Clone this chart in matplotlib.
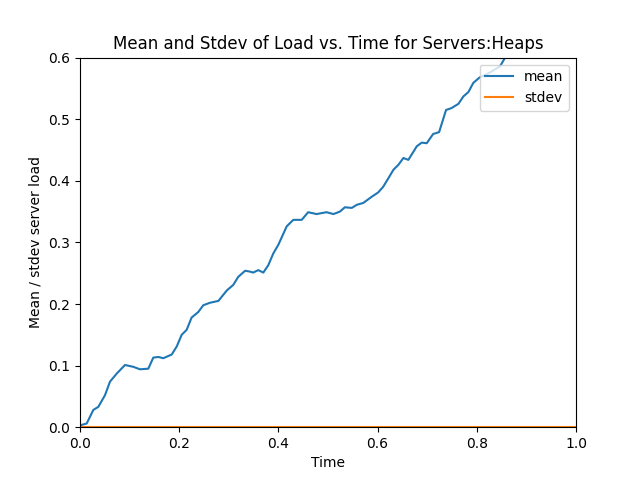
import matplotlib
matplotlib.use('Agg')
import matplotlib.pyplot as plt

# values
time = [0.0, 0.0135, 0.0268, 0.0369, 0.0504, 0.0605, 0.074, 0.0907, 0.1075, 0.121,
        0.1377, 0.1478, 0.1579, 0.168, 0.1849, 0.195, 0.205, 0.215, 0.225, 0.2385,
        0.2486, 0.262, 0.279, 0.296, 0.309, 0.319, 0.333, 0.343, 0.349, 0.3595,
        0.3696, 0.3796, 0.3897, 0.3998, 0.4167, 0.430, 0.447, 0.460, 0.477, 0.497,
        0.511, 0.524, 0.534, 0.548, 0.558, 0.571, 0.588, 0.601, 0.611, 0.6216,
        0.632, 0.642, 0.652, 0.662, 0.679, 0.689, 0.699, 0.712, 0.724, 0.738,
        0.749, 0.763, 0.773, 0.783, 0.793, 0.806, 0.820, 0.833, 0.847, 0.857,
        0.9, 0.95, 1.0]
mean = [0.003, 0.006, 0.028, 0.033, 0.052, 0.074, 0.087, 0.101, 0.098, 0.094,
        0.095, 0.113, 0.114, 0.112, 0.118, 0.131, 0.150, 0.158, 0.178, 0.187,
        0.198, 0.202, 0.205, 0.222, 0.231, 0.244, 0.254, 0.2525, 0.251, 0.255,
        0.251, 0.263, 0.282, 0.296, 0.326, 0.3366, 0.3366, 0.349, 0.346, 0.349,
        0.346, 0.350, 0.357, 0.356, 0.361, 0.364, 0.374, 0.381, 0.390, 0.404,
        0.418, 0.426, 0.437, 0.434, 0.456, 0.462, 0.461, 0.476, 0.479, 0.515,
        0.518, 0.525, 0.537, 0.544, 0.559, 0.568, 0.573, 0.579, 0.586, 0.600,
        0.63, 0.66, 0.70]
stdev = [0.0] * len(time)

fig, ax = plt.subplots(figsize=(6.4, 4.8), dpi=100)
ax.plot(time, mean, label='mean')
ax.plot(time, stdev, label='stdev')

ax.set_xlim(0, 1)
ax.set_ylim(0, 0.6)
ax.set_xlabel('Time')
ax.set_ylabel('Mean / stdev server load')
ax.set_title('Mean and Stdev of Load vs. Time for Servers:Heaps')
ax.legend(loc='upper right')

fig.savefig('out.png', dpi=100)
